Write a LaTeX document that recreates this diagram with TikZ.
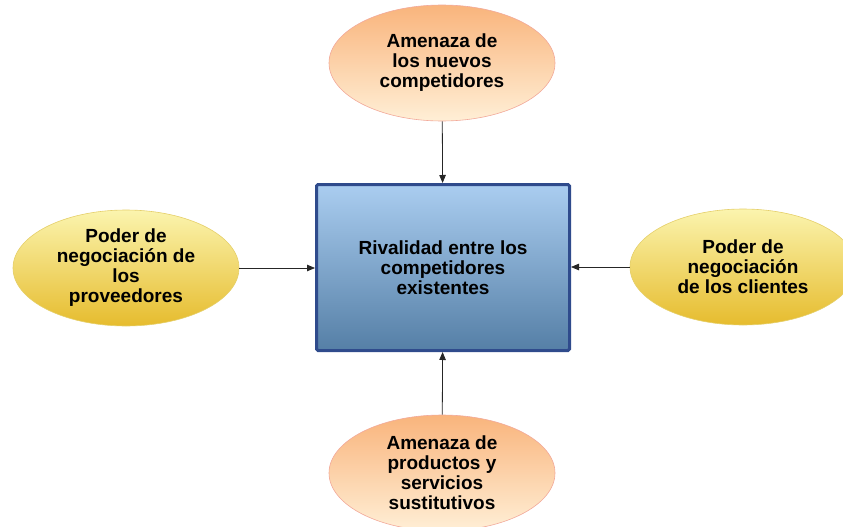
\documentclass[tikz,border=0pt]{standalone}
\usepackage{fontspec}
\setmainfont{Liberation Sans}
\usetikzlibrary{shapes.geometric,arrows.meta}
\definecolor{boxtop}{HTML}{AACDF0}
\definecolor{boxbot}{HTML}{557FA6}
\definecolor{boxline}{HTML}{2F4B8C}
\definecolor{ortop}{HTML}{F9B47C}
\definecolor{orbot}{HTML}{FFEFD6}
\definecolor{orline}{HTML}{F2A99A}
\definecolor{yetop}{HTML}{FBF4AE}
\definecolor{yebot}{HTML}{E6BC2E}
\definecolor{yeline}{HTML}{E5CF6A}
\tikzset{
  force/.style={ellipse, minimum width=226pt, minimum height=116pt, inner sep=0pt,
    align=center, font=\fontsize{19}{20}\selectfont\bfseries, text=black},
  orangeell/.style={force, draw=orline, line width=0.6pt, top color=ortop, bottom color=orbot},
  yellowell/.style={force, draw=yeline, line width=0.6pt, top color=yetop, bottom color=yebot},
  centerbox/.style={rectangle, rounded corners=1.5pt, minimum width=253pt, minimum height=166pt,
    draw=boxline, line width=3pt, top color=boxtop, bottom color=boxbot, align=center,
    font=\fontsize{19}{20}\selectfont\bfseries, text=black},
  arr/.style={draw=black!85, line width=0.8pt, -{Triangle[length=8pt,width=6.5pt]}}
}
\begin{document}
\begin{tikzpicture}[x=1pt,y=-1pt]
\useasboundingbox (0,0) rectangle (843,527);
\clip (0,0) rectangle (843,527);
\node[centerbox] (rival) at (443,267.5) {Rivalidad entre los\\competidores\\existentes};
\node[orangeell] (nuevos) at (442,63) {Amenaza de\\los nuevos\\competidores};
\node[orangeell] (sust) at (442,473) {Amenaza de\\productos y\\servicios\\sustitutivos};
\node[yellowell] (prov) at (126,268) {Poder de\\negociación de\\los\\proveedores};
\node[yellowell] (cli) at (743,267) {Poder de\\negociación\\de los clientes};
\draw[arr] (nuevos) -- (rival);
\draw[arr] (sust) -- (rival);
\draw[arr] (prov.east) -- (prov.east -| rival.west);
\draw[arr] (cli.west) -- (cli.west -| rival.east);
\end{tikzpicture}
\end{document}
